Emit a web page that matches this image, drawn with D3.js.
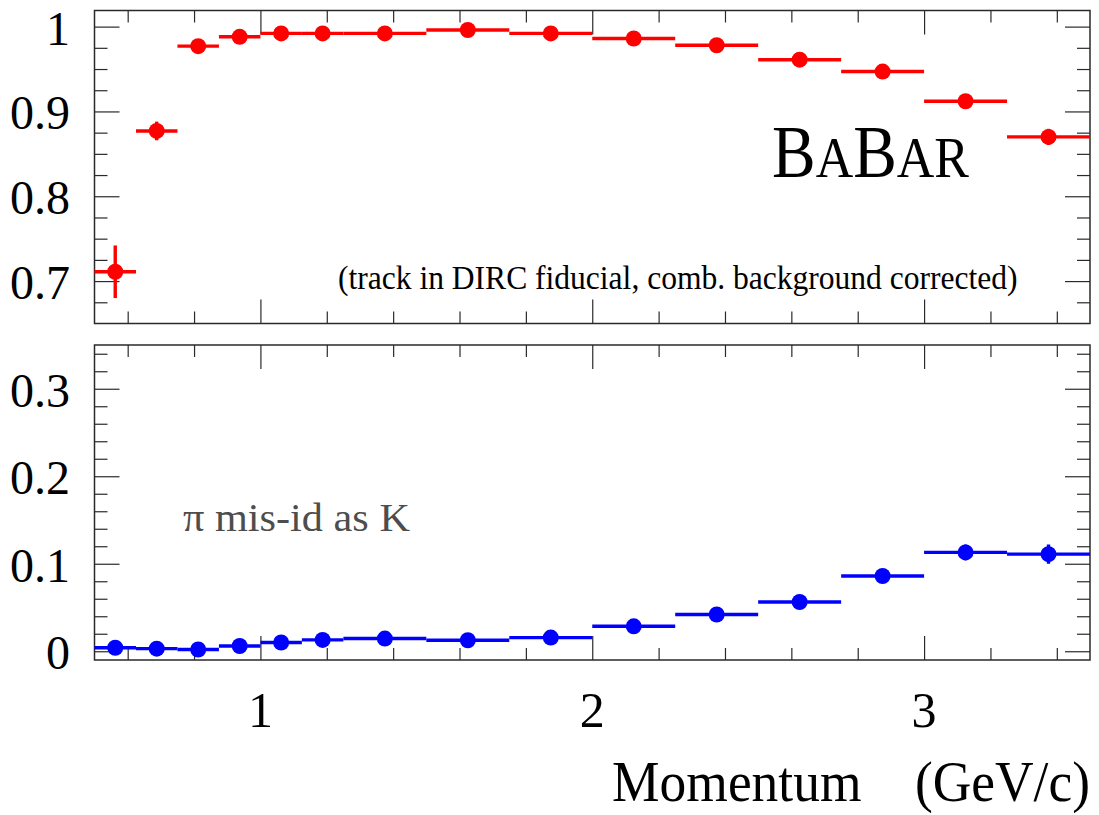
<!DOCTYPE html>
<html>
<head>
<meta charset="utf-8">
<script src="https://cdn.jsdelivr.net/npm/d3@7"></script>
<style>
  body { margin: 0; background: #fff; }
  text { font-family: "Liberation Serif", "Times New Roman", Tinos, serif; }
</style>
</head>
<body>
<svg id="chart" width="1099" height="815"></svg>
<script>
// momentum bins (GeV/c)
var binEdges = [0.5, 0.625, 0.75, 0.875, 1.0, 1.125, 1.25, 1.5, 1.75, 2.0, 2.25, 2.5, 2.75, 3.0, 3.25, 3.5];

// kaon efficiency (top panel)
var kaonEff = [0.711, 0.877, 0.977, 0.988, 0.992, 0.992, 0.992, 0.996, 0.992, 0.986, 0.978, 0.961, 0.947, 0.912, 0.870];
var kaonErr = [0.031, 0.011, 0.006, 0.005, 0.004, 0.004, 0.003, 0.003, 0.003, 0.004, 0.004, 0.005, 0.006, 0.007, 0.0095];

// pion mis-id as kaon (bottom panel)
var pionMisId = [0.004, 0.003, 0.002, 0.006, 0.010, 0.013, 0.0145, 0.0126, 0.0156, 0.0285, 0.042, 0.0563, 0.086, 0.113, 0.111];
var pionErr = [0.003, 0.002, 0.002, 0.003, 0.003, 0.003, 0.003, 0.003, 0.003, 0.004, 0.005, 0.006, 0.008, 0.009, 0.011];

var xTickLabels = [1, 2, 3];
var effTickLabels = [0.7, 0.8, 0.9, 1];
var misTickLabels = [0, 0.1, 0.2, 0.3];

var svg = d3.select("#chart");

var x = d3.scaleLinear().domain([0.5, 3.5]).range([94.5, 1090]);

var yTop = d3.scaleLinear().domain([0.65, 1.019]).range([323.5, 10.5]);
var yBot = d3.scaleLinear().domain([-0.01, 0.35]).range([660, 345]);

var frameColor = "#2a2a2a";
var serif = "'Liberation Serif', 'Times New Roman', Tinos, serif";

function drawFrame(y, majorStep, minorStep) {
  var g = svg.append("g");
  var y0 = y.range()[0], y1 = y.range()[1];
  var x0 = x.range()[0], x1 = x.range()[1];

  var xMinor = d3.range(0.6, 3.45, 0.2).filter(function(v){ return Math.abs(v - Math.round(v)) > 1e-6; });
  var xMajor = d3.range(1, 4, 1);
  var yd = y.domain();
  var yAll = d3.range(Math.ceil(yd[0] / minorStep - 1e-6) * minorStep, yd[1] + 1e-9, minorStep)
    .filter(function(v){ return y(v) < y0 - 1 && y(v) > y1 + 1; });

  function isMajor(v) { var r = v / majorStep; return Math.abs(r - Math.round(r)) < 1e-6; }

  // x ticks on bottom and top
  g.append("g").attr("transform", "translate(0," + y0 + ")")
    .call(d3.axisTop(x).tickValues(xMinor).tickSize(12).tickSizeOuter(0).tickFormat(""));
  g.append("g").attr("transform", "translate(0," + y0 + ")")
    .call(d3.axisTop(x).tickValues(xMajor).tickSize(24).tickSizeOuter(0).tickFormat(""));
  g.append("g").attr("transform", "translate(0," + y1 + ")")
    .call(d3.axisBottom(x).tickValues(xMinor).tickSize(12).tickSizeOuter(0).tickFormat(""));
  g.append("g").attr("transform", "translate(0," + y1 + ")")
    .call(d3.axisBottom(x).tickValues(xMajor).tickSize(24).tickSizeOuter(0).tickFormat(""));

  // y ticks on left and right
  var yMinor = yAll.filter(function(v){ return !isMajor(v); });
  var yMajor = yAll.filter(isMajor);
  g.append("g").attr("transform", "translate(" + x0 + ",0)")
    .call(d3.axisRight(y).tickValues(yMinor).tickSize(13).tickSizeOuter(0).tickFormat(""));
  g.append("g").attr("transform", "translate(" + x0 + ",0)")
    .call(d3.axisRight(y).tickValues(yMajor).tickSize(25).tickSizeOuter(0).tickFormat(""));
  g.append("g").attr("transform", "translate(" + x1 + ",0)")
    .call(d3.axisLeft(y).tickValues(yMinor).tickSize(13).tickSizeOuter(0).tickFormat(""));
  g.append("g").attr("transform", "translate(" + x1 + ",0)")
    .call(d3.axisLeft(y).tickValues(yMajor).tickSize(25).tickSizeOuter(0).tickFormat(""));

  g.selectAll(".domain").remove();
  g.selectAll(".tick line").attr("stroke", frameColor).attr("stroke-width", 1.2);

  g.append("rect")
    .attr("x", x0).attr("y", y1)
    .attr("width", x1 - x0).attr("height", y0 - y1)
    .attr("fill", "none").attr("stroke", frameColor).attr("stroke-width", 1.5);
}

function drawPoints(y, vals, errs, color) {
  var data = vals.map(function(v, i){
    return { lo: binEdges[i], hi: binEdges[i + 1], c: (binEdges[i] + binEdges[i + 1]) / 2, v: v, e: errs[i] };
  });
  var g = svg.append("g");
  g.selectAll("line.h").data(data).enter().append("line")
    .attr("x1", function(d){ return x(d.lo); })
    .attr("x2", function(d){ return x(d.hi); })
    .attr("y1", function(d){ return y(d.v); })
    .attr("y2", function(d){ return y(d.v); })
    .attr("stroke", color).attr("stroke-width", 3.4);
  g.selectAll("line.v").data(data).enter().append("line")
    .attr("x1", function(d){ return x(d.c); })
    .attr("x2", function(d){ return x(d.c); })
    .attr("y1", function(d){ return y(d.v - d.e); })
    .attr("y2", function(d){ return y(d.v + d.e); })
    .attr("stroke", color).attr("stroke-width", 3.4);
  g.selectAll("circle").data(data).enter().append("circle")
    .attr("cx", function(d){ return x(d.c); })
    .attr("cy", function(d){ return y(d.v); })
    .attr("r", 8)
    .attr("fill", color);
}

// squeeze a text horizontally so it spans the given width (reference font is narrower)
function fitText(t, px, py, width) {
  var w = t.node().getComputedTextLength();
  t.attr("x", 0).attr("y", 0)
   .attr("transform", "translate(" + px + "," + py + ") scale(" + (width / w) + ",1)");
  return t;
}

drawFrame(yTop, 0.1, 0.025);
drawFrame(yBot, 0.1, 0.02);

drawPoints(yTop, kaonEff, kaonErr, "#ff0000");
drawPoints(yBot, pionMisId, pionErr, "#0000ff");

// y tick labels
svg.append("g").selectAll("text").data(effTickLabels).enter().append("text")
  .attr("x", 70).attr("y", function(d){ return yTop(d) + 18; })
  .attr("text-anchor", "end").attr("font-size", 48).attr("font-family", serif)
  .text(function(d){ return d3.format("")(d); });

svg.append("g").selectAll("text").data(misTickLabels).enter().append("text")
  .attr("x", 70).attr("y", function(d){ return yBot(d) + 18; })
  .attr("text-anchor", "end").attr("font-size", 48).attr("font-family", serif)
  .text(function(d){ return d3.format("")(d); });

// x tick labels
svg.append("g").selectAll("text").data(xTickLabels).enter().append("text")
  .attr("x", function(d){ return x(d); }).attr("y", 727)
  .attr("text-anchor", "middle").attr("font-size", 50).attr("font-family", serif)
  .text(function(d){ return d; });

// axis title
var title = svg.append("text")
  .attr("text-anchor", "end").attr("font-size", 58).attr("font-family", serif)
  .style("white-space", "pre")
  .text("Momentum    (GeV/c)");
fitText(title, 1090, 801, 478);

// BaBar logo
var logo = svg.append("text").attr("font-family", serif);
logo.append("tspan").attr("font-size", 73).text("B");
logo.append("tspan").attr("font-size", 58).text("A");
logo.append("tspan").attr("font-size", 73).text("B");
logo.append("tspan").attr("font-size", 58).text("AR");
fitText(logo, 772, 177, 197);

// annotations
var note = svg.append("text")
  .attr("font-size", 33).attr("font-family", serif)
  .text("(track in DIRC fiducial, comb. background corrected)");
fitText(note, 338, 289, 680);

var pion = svg.append("text")
  .attr("font-size", 40).attr("font-family", serif).attr("fill", "#4d4d4d")
  .text("\u03c0 mis-id as K");
fitText(pion, 183, 531, 227);
</script>
</body>
</html>
